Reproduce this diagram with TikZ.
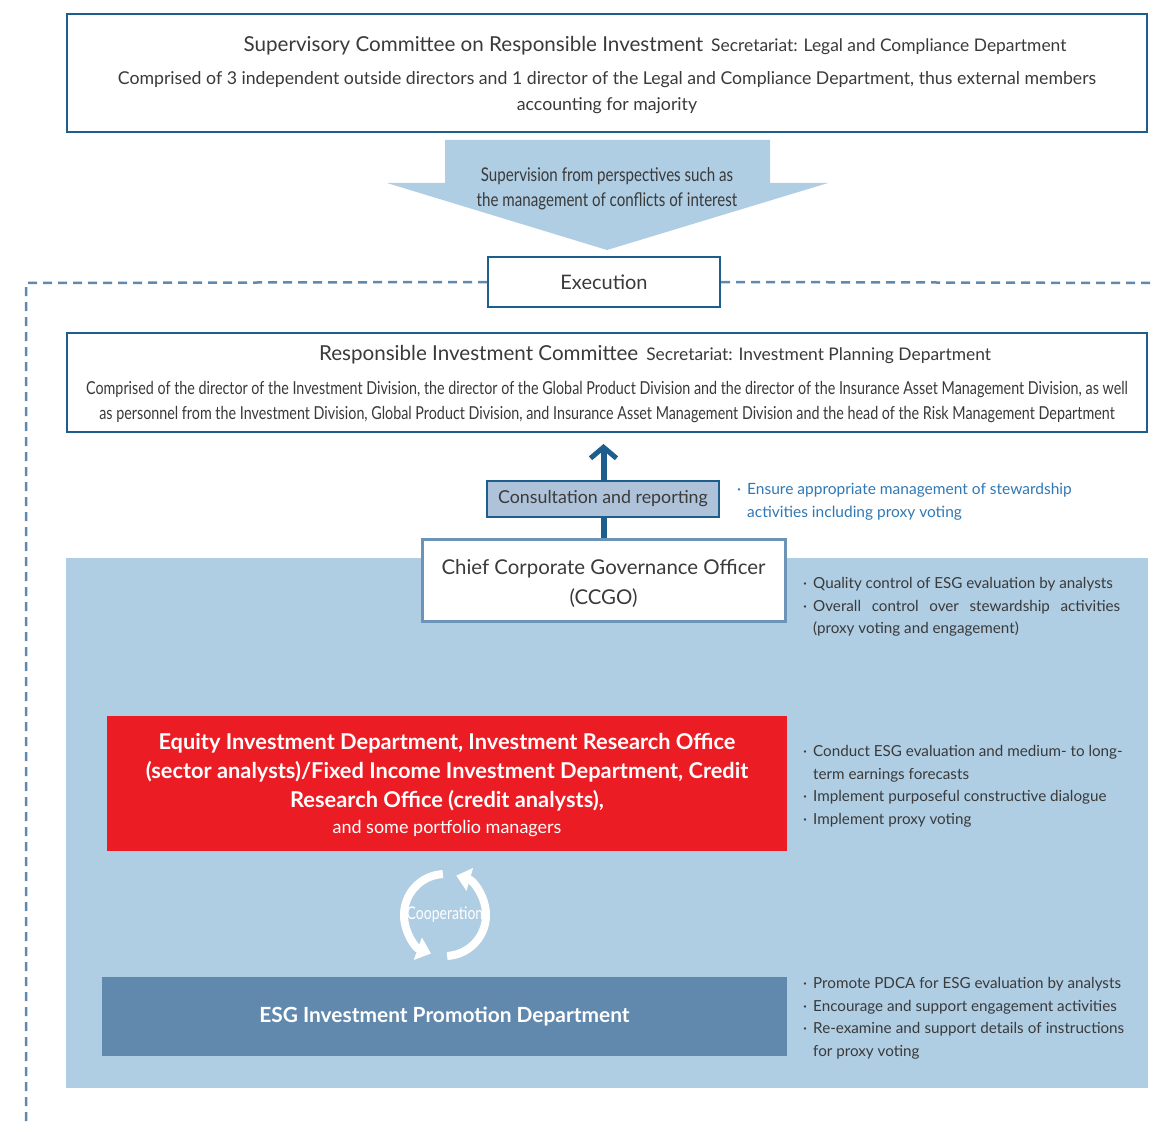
\documentclass[tikz,border=0pt]{standalone}
\usepackage{fontspec}
\setmainfont{Lato}
\newfontfamily\cond[FakeStretch=0.8]{Lato}
\usetikzlibrary{arrows.meta}
\definecolor{dblue}{HTML}{1E5E8C}
\definecolor{lblue}{HTML}{AFCDE3}
\definecolor{cblue}{HTML}{AEC3DA}
\definecolor{dashc}{HTML}{6089B0}
\definecolor{ccgob}{HTML}{6C93B8}
\definecolor{redb}{HTML}{EC1C24}
\definecolor{esgb}{HTML}{6189AE}
\definecolor{txt}{HTML}{3A3A3A}
\definecolor{notec}{HTML}{2F78B4}
\newcommand\bul{\makebox[10pt][l]{·}}
\newcommand\ind{\hspace*{10pt}}
\tikzset{
  frame/.style={draw=dblue, line width=2pt, fill=white, inner sep=0pt},
  lbl/.style={text=txt, inner sep=0pt, align=center},
  bullets/.style={text=txt, inner sep=0pt, align=left, anchor=north west, font=\fontsize{15.2}{22.7}\selectfont},
  dashln/.style={draw=dashc, line width=2.5pt, dash pattern=on 9pt off 6pt},
  coarrow/.style={white, line width=8pt, -{Triangle[length=14pt,width=23pt]}},
}
\begin{document}
\begin{tikzpicture}[x=1pt,y=-1pt]
\useasboundingbox (0,0) rectangle (1153,1126);
% supervisory committee
\node[frame, minimum width=1080, minimum height=118] (sup) at (607,73) {};
\node[lbl, anchor=base] (suptitle) at (655,52) {{\fontsize{20.6}{24}\selectfont Supervisory Committee on Responsible Investment}\hspace{8pt}{\fontsize{17.4}{20}\selectfont Secretariat: Legal and Compliance Department}};
\node[lbl, font=\fontsize{17.7}{26}\selectfont, anchor=base] (supbody) at (607,111) {Comprised of 3 independent outside directors and 1 director of the Legal and Compliance Department, thus external members\\accounting for majority};
% big arrow
\fill[lblue] (445,140) -- (770,140) -- (770,183) -- (828,183) -- (607,250) -- (387,183) -- (445,183) -- cycle;
\node[lbl, font=\cond\fontsize{18.9}{25}\selectfont] (suptext) at (607,189) {Supervision from perspectives such as\\the management of conflicts of interest};
% execution
\node[frame, minimum width=232, minimum height=50, font=\fontsize{20}{24}\selectfont, text=txt] (exec) at (604,282) {Execution};
\coordinate (dl) at (26,283);
\coordinate (db) at (26,1126);
\coordinate (dr) at (1153,283);
\draw[dashln] (exec.west) -- (dl) -- (db);
\draw[dashln] (exec.east) -- (dr);
% responsible investment committee
\node[frame, minimum width=1080, minimum height=99] (ric) at (607,382.5) {};
\node[lbl, anchor=base] (rictitle) at (655,360) {{\fontsize{20.6}{24}\selectfont Responsible Investment Committee}\hspace{8pt}{\fontsize{17.4}{20}\selectfont Secretariat: Investment Planning Department}};
\node[lbl, font=\cond\fontsize{17.9}{25}\selectfont, anchor=base] (ricbody) at (607,419) {Comprised of the director of the Investment Division, the director of the Global Product Division and the director of the Insurance Asset Management Division, as well\\as personnel from the Investment Division, Global Product Division, and Insurance Asset Management Division and the head of the Risk Management Department};
% light blue background
\fill[lblue] (66,558) rectangle (1148,1088);
% CCGO
\node[draw=ccgob, line width=3pt, fill=white, minimum width=363, minimum height=82, inner sep=0pt] (ccgo) at (603.5,580) {};
\node[lbl, font=\fontsize{20.4}{30}\selectfont] (ccgotext) at (603.5,583) {Chief Corporate Governance Officer\\(CCGO)};
\draw[dblue, line width=6pt, shorten >=11pt, -{Straight Barb[length=11pt,width=26pt,line width=5pt]}] (ccgo.north) -- (ric.south -| ccgo.north);
\node[draw=dblue, line width=1.5pt, fill=cblue, minimum width=232, minimum height=36, inner sep=0pt, text=txt, font=\fontsize{17.8}{20}\selectfont] (cons) at (603,499) {Consultation and reporting};
\node[text=notec, inner sep=0pt, align=left, anchor=north west, font=\fontsize{15.5}{23}\selectfont] (note) at (737,483) {\bul Ensure appropriate management of stewardship\\\ind activities including proxy voting};
\node[bullets] (ccgonote) at (803,577) {\bul Quality control of ESG evaluation by analysts\\\bul \makebox[307pt][s]{Overall control over stewardship activities}\\\ind (proxy voting and engagement)};
% red box
\node[fill=redb, minimum width=680, minimum height=135, inner sep=0pt] (red) at (447,783.5) {};
\node[text=white, align=center, inner sep=0pt, anchor=base, font=\bfseries\fontsize{21.8}{29}\selectfont] (redtext) at (447,833) {Equity Investment Department, Investment Research Office\\(sector analysts)/Fixed Income Investment Department, Credit\\Research Office (credit analysts),\\[-3pt]{\mdseries\fontsize{18}{20}\selectfont and some portfolio managers}};
\node[bullets] (rednote) at (803,745) {\bul Conduct ESG evaluation and medium- to long-\\\ind term earnings forecasts\\\bul Implement purposeful constructive dialogue\\\bul Implement proxy voting};
% cooperation
\node[text=white, inner sep=0pt, font=\cond\fontsize{17.5}{20}\selectfont] (coop) at (445,915) {Cooperation};
\begin{scope}[shift={(coop.center)}, y=1pt]
\draw[coarrow] (93:41) arc[start angle=93, end angle=250, radius=41];
\draw[coarrow] (-87:41) arc[start angle=-87, end angle=74, radius=41];
\end{scope}
% ESG box
\node[fill=esgb, minimum width=685, minimum height=79, inner sep=0pt, text=white, font=\bfseries\fontsize{20.9}{24}\selectfont] (esg) at (444.5,1016.5) {ESG Investment Promotion Department};
\node[bullets] (esgnote) at (803,977) {\bul Promote PDCA for ESG evaluation by analysts\\\bul Encourage and support engagement activities\\\bul \makebox[311pt][s]{Re-examine and support details of instructions}\\\ind for proxy voting};
\end{tikzpicture}
\end{document}
